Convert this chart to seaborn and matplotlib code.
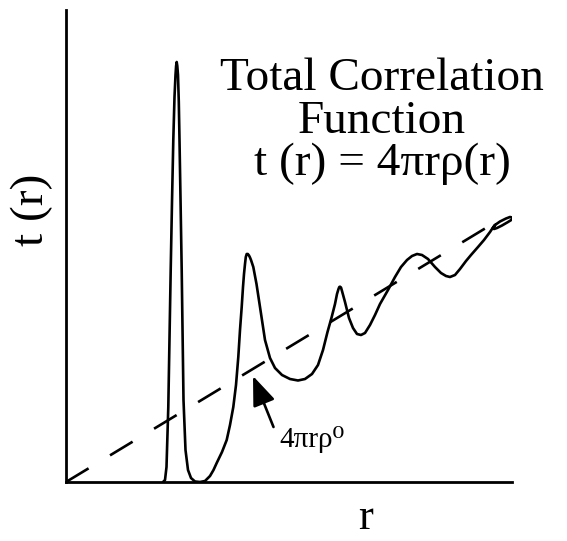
import matplotlib
matplotlib.use("Agg")
import matplotlib.pyplot as plt
import seaborn as sns
import pandas as pd

# ---- data (arbitrary units) ----
r_vals = [97, 99, 100.5, 102.3, 104.7, 106, 107.3, 108.5, 109.5, 110.1, 110.7, 111.3,
          112, 112.8, 113.5, 114.6, 115.7, 117.5,
          119.5, 122, 125, 129, 134, 139, 144, 147.5, 150.7, 156, 160.7, 164, 167.3,
          170, 172.3, 174, 175.7, 177, 178, 179, 179.8, 180.7, 181.8, 183, 184, 185,
          187.3, 190.5, 194, 199, 204, 209, 216, 224, 232, 239, 246, 252, 257, 261.5,
          265.7, 269, 271, 272.5, 273.3, 274, 275, 276, 279, 283, 287, 291, 295, 299,
          304, 309, 314, 322, 329, 335, 341, 346, 351, 356, 362, 369, 375, 380, 384,
          389, 394, 400, 405, 412, 418, 424, 426, 429, 434, 440, 444, 446, 446, 442,
          436, 431, 428, 427, 429]
t_vals = [0, 2, 15, 75, 212, 280, 342, 385, 407, 416, 420, 416,
          407, 380, 342, 278, 212, 82,
          32, 12, 4, 0.5, 0, 1, 6, 12, 19, 30, 42, 57, 75,
          97, 125, 152, 175, 195, 208, 218, 225, 228, 228, 226.5, 224.5, 222,
          215, 198, 175, 142, 124, 114, 107, 103, 101.5, 103, 108, 117, 132, 150,
          165, 178, 188, 193, 195, 195.3, 194.5, 191, 180, 164, 154, 148, 147, 149,
          157, 167, 178, 192, 205, 215, 222, 226, 228, 227, 223, 215, 209, 206, 205,
          207, 213, 221, 227, 235, 242, 250, 253, 257, 260.5, 263.5, 265, 264.5, 262.5, 260,
          256.5, 254, 253, 254.5, 257]

density_r = [0, 439]
density_t = [0, 265.6]

title_lines = ["Total Correlation", "Function", "t (r) = 4πrρ(r)"]
x_label = "r"
y_label = "t (r)"
density_label = "4πrρ⁰"

# ---- figure ----
sns.set_style("white")
plt.rcParams["font.family"] = ["Liberation Serif", "DejaVu Serif"]

fig = plt.figure(figsize=(5.67, 5.41), dpi=100)
ax = fig.add_axes([66 / 567, (541 - 482) / 541, (512 - 66) / 567, (482 - 10) / 541])

curve = pd.DataFrame({"r": r_vals, "t": t_vals})
sns.lineplot(data=curve, x="r", y="t", sort=False, estimator=None,
             color="black", linewidth=1.9, ax=ax)

dens = pd.DataFrame({"r": density_r, "t": density_t})
sns.lineplot(data=dens, x="r", y="t", sort=False, estimator=None,
             color="black", linewidth=1.9, linestyle=(0, (10, 9.5)), ax=ax)

ax.set_xlim(0, 446)
ax.set_ylim(0, 472)
ax.set_xticks([])
ax.set_yticks([])
ax.set_xlabel("")
ax.set_ylabel("")
for s in ["top", "right"]:
    ax.spines[s].set_visible(False)
for s in ["left", "bottom"]:
    ax.spines[s].set_color("black")
    ax.spines[s].set_linewidth(2.0)

# arrow pointing at the dashed line
ax.annotate("", xy=(187, 106), xytext=(207.5, 55),
            arrowprops=dict(arrowstyle="-|>,head_length=0.9,head_width=0.35",
                            color="black", lw=1.9, mutation_scale=20,
                            shrinkA=0, shrinkB=0))
ax.text(213, 35, density_label, fontsize=21, ha="left", va="baseline",
        color="black", family=["Liberation Serif", "DejaVu Serif"])

# title block
cx = 382 / 567
for line, base in zip(title_lines, [90, 133, 175]):
    fig.text(cx, (541 - base) / 541, line, fontsize=34, ha="center",
             va="baseline", color="black")

fig.text(32 / 567, (541 - 210) / 541, y_label, fontsize=34, rotation=90,
         ha="center", va="center", color="black")
fig.text(366 / 567, (541 - 529) / 541, x_label, fontsize=32, ha="center",
         va="baseline", color="black")

fig.savefig("out.png", dpi=100)
